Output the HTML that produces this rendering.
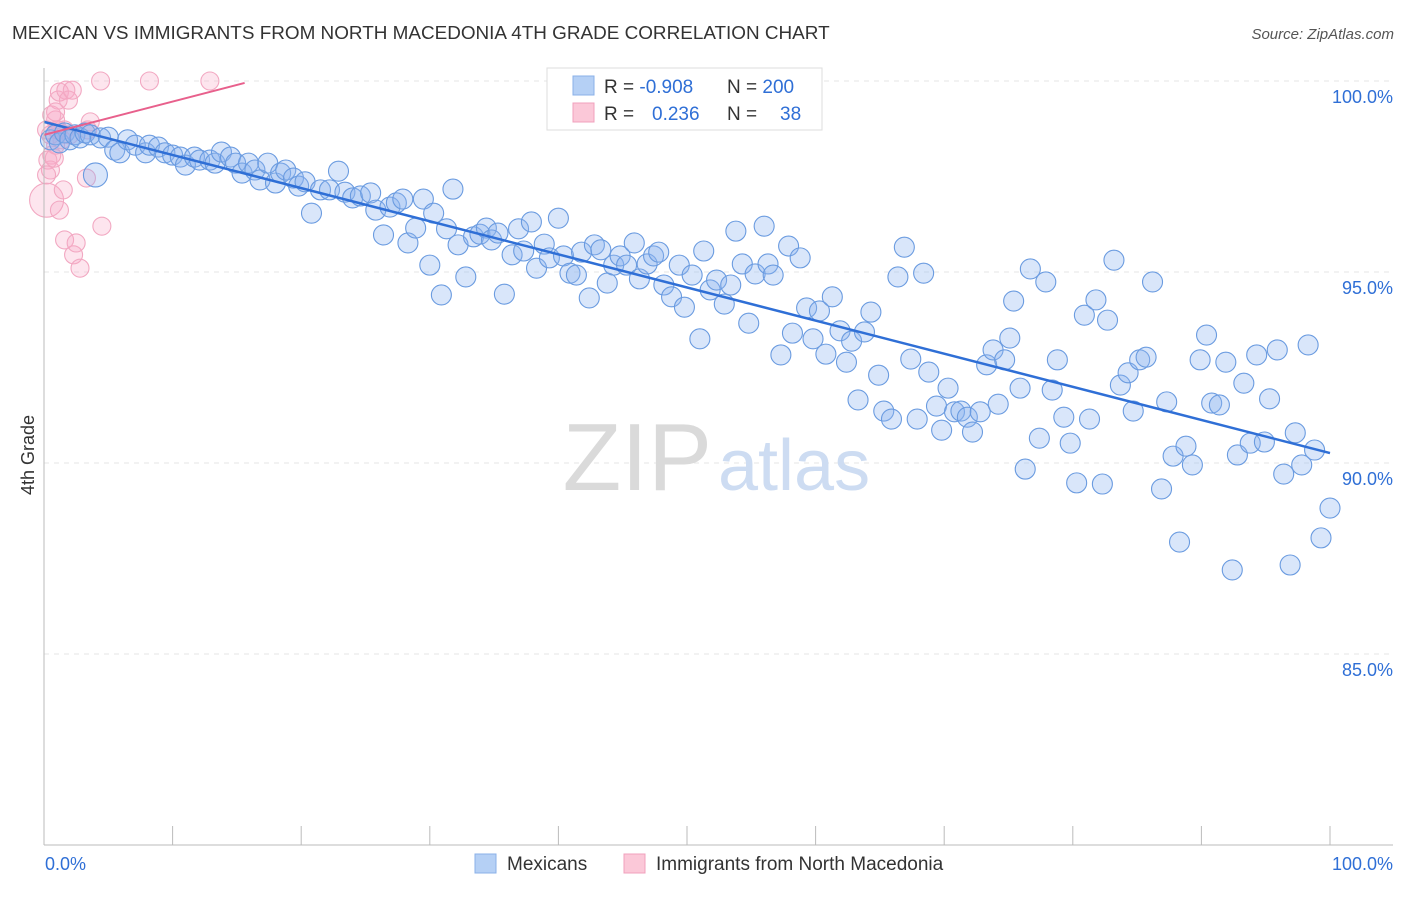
<!DOCTYPE html>
<html><head><meta charset="utf-8"><style>
body{margin:0;background:#fff;font-family:"Liberation Sans",sans-serif;}
svg text{font-family:"Liberation Sans",sans-serif;}
</style></head><body>
<svg id="chart" width="1406" height="892">
<text x="12" y="39" font-size="18.9" fill="#333">MEXICAN VS IMMIGRANTS FROM NORTH MACEDONIA 4TH GRADE CORRELATION CHART</text>
<text x="1394" y="39" font-size="15" fill="#555" font-style="italic" text-anchor="end">Source: ZipAtlas.com</text>
<g id="grid"></g>
<text x="712" y="490" font-size="96" fill="#dadada" text-anchor="end" font-family="Liberation Serif">ZIP</text>
<text x="718" y="490" font-size="72" fill="#cddcf2">atlas</text>
<g id="pts"></g>
<g id="axes"></g>
<text transform="translate(34,455) rotate(-90)" font-size="18" fill="#333" text-anchor="middle">4th Grade</text>
<g>
<rect x="547" y="68" width="275" height="62" fill="#fff" stroke="#ddd"/>
<rect x="573" y="76" width="21" height="19" fill="#b5d0f5" stroke="#8ab0e8"/>
<rect x="573" y="103" width="21" height="19" fill="#fbc8d8" stroke="#f0a0bc"/>
<text x="604" y="93" font-size="19" fill="#333">R = <tspan fill="#2f6fd6">-0.908</tspan></text>
<text x="727" y="93" font-size="19" fill="#333">N = <tspan fill="#2f6fd6">200</tspan></text>
<text x="604" y="120" font-size="19" fill="#333">R = <tspan fill="#2f6fd6" x="652">0.236</tspan></text>
<text x="727" y="120" font-size="19" fill="#333">N = <tspan fill="#2f6fd6" x="780">38</tspan></text>
</g>
<g>
<rect x="475" y="854" width="21" height="19" fill="#b5d0f5" stroke="#8ab0e8"/>
<text x="507" y="870" font-size="19" fill="#333">Mexicans</text>
<rect x="624" y="854" width="21" height="19" fill="#fbc8d8" stroke="#f0a0bc"/>
<text x="656" y="870" font-size="19" fill="#333">Immigrants from North Macedonia</text>
</g>
</svg>
<script>
const yTicks=[100,95,90,85];
const yTickLabels=["100.0%","95.0%","90.0%","85.0%"];
const xTickLabels=["0.0%","100.0%"];
const blueX=[0.5,0.9,1.2,1.6,2.0,2.4,2.8,3.2,3.6,4.0,4.4,5.0,5.5,5.9,6.5,7.1,7.9,8.2,8.9,9.4,10.0,10.6,11.0,11.7,12.1,12.9,13.3,13.8,14.5,14.9,15.4,15.9,16.4,16.8,17.4,18.0,18.4,18.8,19.4,19.8,20.3,20.8,21.5,22.2,22.9,23.4,24.0,24.6,25.4,25.8,26.4,26.9,27.4,27.9,28.3,28.9,29.5,30.0,30.3,30.9,31.3,31.8,32.2,32.8,33.4,33.9,34.4,34.8,35.3,35.8,36.4,36.9,37.3,37.9,38.3,38.9,39.3,40.0,40.4,40.9,41.4,41.8,42.4,42.8,43.3,43.8,44.3,44.8,45.3,45.9,46.3,46.9,47.4,47.8,48.2,48.8,49.4,49.8,50.4,51.0,51.3,51.8,52.3,52.9,53.4,53.8,54.3,54.8,55.3,56.0,56.3,56.7,57.3,57.9,58.2,58.8,59.3,59.8,60.3,60.8,61.3,61.9,62.4,62.8,63.3,63.8,64.3,64.9,65.3,65.9,66.4,66.9,67.4,67.9,68.4,68.8,69.4,69.8,70.3,70.8,71.3,71.8,72.2,72.8,73.3,73.8,74.2,74.7,75.1,75.4,75.9,76.3,76.7,77.4,77.9,78.4,78.8,79.3,79.8,80.3,80.9,81.3,81.8,82.3,82.7,83.2,83.7,84.3,84.7,85.2,85.7,86.2,86.9,87.3,87.8,88.3,88.8,89.3,89.9,90.4,90.8,91.4,91.9,92.4,92.8,93.3,93.8,94.3,94.9,95.3,95.9,96.4,96.9,97.3,97.8,98.3,98.8,99.3,100.0];
const blueY=[98.46,98.59,98.38,98.64,98.46,98.59,98.51,98.64,98.59,97.54,98.51,98.53,98.19,98.12,98.46,98.32,98.12,98.32,98.27,98.12,98.06,98.01,97.80,98.01,97.93,97.93,97.85,98.14,98.01,97.85,97.59,97.85,97.67,97.41,97.85,97.33,97.59,97.67,97.46,97.25,97.36,96.54,97.15,97.15,97.64,97.09,96.94,96.99,97.07,96.62,95.97,96.70,96.81,96.91,95.76,96.15,96.91,95.18,96.54,94.40,96.13,97.17,95.71,94.87,95.92,95.99,96.15,95.84,96.02,94.42,95.45,96.13,95.55,96.31,95.10,95.73,95.37,96.41,95.42,94.97,94.92,95.52,94.32,95.71,95.58,94.71,95.18,95.42,95.18,95.76,94.82,95.21,95.42,95.52,94.66,94.35,95.18,94.08,94.92,93.25,95.55,94.53,94.79,94.16,94.66,96.07,95.21,93.66,94.95,96.20,95.21,94.92,92.83,95.68,93.40,95.37,94.06,93.25,93.98,92.85,94.35,93.46,92.64,93.19,91.65,93.43,93.95,92.30,91.36,91.15,94.87,95.65,92.72,91.15,94.97,92.38,91.49,90.86,91.96,91.34,91.36,91.20,90.81,91.34,92.57,92.96,91.54,92.70,93.27,94.24,91.96,89.84,95.08,90.65,94.74,91.91,92.70,91.20,90.52,89.48,93.87,91.15,94.27,89.45,93.74,95.31,92.04,92.36,91.36,92.70,92.77,94.74,89.32,91.60,90.18,87.93,90.44,89.95,92.70,93.35,91.57,91.52,92.64,87.20,90.21,92.09,90.52,92.83,90.55,91.68,92.96,89.71,87.33,90.79,89.95,93.09,90.34,88.04,88.82];
const pinkX=[0.2,0.5,0.6,0.9,1.1,1.2,1.4,1.5,1.6,1.7,1.9,2.0,2.2,2.3,2.5,2.8,3.3,3.4,3.6,4.4,4.5,8.2,12.9,0.3,0.5,0.6,0.9,0.9,1.1,1.2,0.2,0.8,0.2,1.0,1.6];
const pinkY=[96.88,98.59,98.06,98.98,99.50,99.71,98.46,97.15,95.84,99.76,99.50,98.59,99.76,95.45,95.76,95.10,97.46,98.72,98.93,100.0,96.20,100.0,100.0,97.93,97.67,99.11,98.32,99.19,98.72,96.62,97.54,97.98,98.72,98.72,98.72];
const blueTrend=[[0,98.93],[100,90.26]];
const pinkTrend=[[0,98.59],[15.6,99.95]];
const X=v=>44+v*12.86, Y=v=>81+(100-v)*38.2;
const NS="http://www.w3.org/2000/svg";
function mk(p,t,a){const e=document.createElementNS(NS,t);for(const k in a)e.setAttribute(k,a[k]);p.appendChild(e);return e;}
const grid=document.getElementById('grid'),axes=document.getElementById('axes'),pts=document.getElementById('pts');
yTicks.forEach((t,i)=>{
 const l=mk(grid,'line',{x1:44,x2:1393,y1:Y(t),y2:Y(t),stroke:'#e6e6e6','stroke-dasharray':'5,5'});
 
 
 const tx=mk(axes,'text',{x:1393,y:Y(t)+22,'font-size':18,fill:'#2f6fd6','text-anchor':'end'});
 tx.textContent=yTickLabels[i];
 
 
});
const xl=mk(axes,'line',{x1:44,x2:1393,y1:845,y2:845,stroke:'#bbb'});


const yl=mk(axes,'line',{x1:44,x2:44,y1:68,y2:845,stroke:'#bbb'});


for(let i=0;i<=10;i++){const t=mk(axes,'line',{x1:X(i*10),x2:X(i*10),y1:826,y2:845,stroke:'#bbb'});
 
 }
[[0,'start',45],[100,'end',1393]].forEach((d,i)=>{const t=mk(axes,'text',{x:d[2],y:870,'font-size':18,fill:'#2f6fd6','text-anchor':d[1]});t.textContent=xTickLabels[i];
 
 });
pinkX.forEach((x,i)=>{const c=mk(pts,'circle',{cx:X(x),cy:Y(pinkY[i]),r:i==0?17:9,fill:'rgba(247,170,200,0.3)',stroke:'#f2a8c2','stroke-width':1.1});
 
 });
blueX.forEach((x,i)=>{const c=mk(pts,'circle',{cx:X(x),cy:Y(blueY[i]),r:i==9?12:10,fill:'rgba(140,180,240,0.33)',stroke:'#6a9be0','stroke-width':1.1});
 
 });
const bl=mk(pts,'line',{x1:X(blueTrend[0][0]),y1:Y(blueTrend[0][1]),x2:X(blueTrend[1][0]),y2:Y(blueTrend[1][1]),stroke:'#2f6fd6','stroke-width':2.5});


const pl=mk(pts,'line',{x1:X(pinkTrend[0][0]),y1:Y(pinkTrend[0][1]),x2:X(pinkTrend[1][0]),y2:Y(pinkTrend[1][1]),stroke:'#e8608c','stroke-width':2});


</script>
</body></html>
